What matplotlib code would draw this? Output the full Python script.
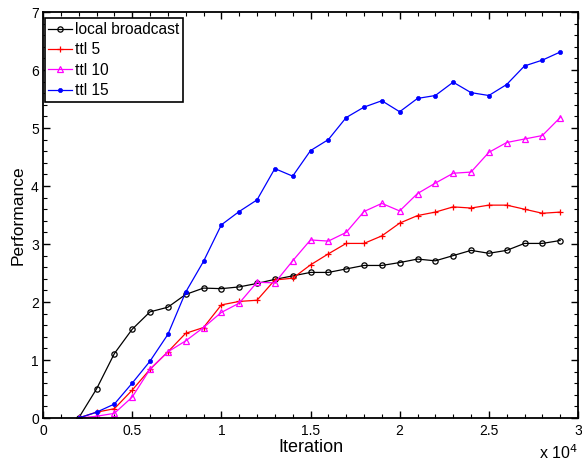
import matplotlib
matplotlib.use("Agg")
import matplotlib.pyplot as plt
from matplotlib.ticker import MultipleLocator, FuncFormatter

plt.rcParams['font.family'] = ['Liberation Sans', 'DejaVu Sans']

iterations = [2000, 3000, 4000, 5000, 6000, 7000, 8000, 9000, 10000, 11000,
              12000, 13000, 14000, 15000, 16000, 17000, 18000, 19000, 20000,
              21000, 22000, 23000, 24000, 25000, 26000, 27000, 28000, 29000]

local_broadcast = [0.0, 0.50, 1.11, 1.53, 1.83, 1.91, 2.13, 2.24, 2.23, 2.26,
                   2.32, 2.39, 2.45, 2.51, 2.51, 2.57, 2.63, 2.63, 2.68, 2.74,
                   2.71, 2.80, 2.89, 2.84, 2.89, 3.01, 3.01, 3.06]
ttl5 = [0.0, 0.10, 0.16, 0.48, 0.84, 1.14, 1.46, 1.56, 1.95, 2.01,
        2.03, 2.38, 2.41, 2.64, 2.83, 3.01, 3.01, 3.14, 3.36, 3.49,
        3.55, 3.64, 3.62, 3.67, 3.67, 3.60, 3.53, 3.55]
ttl10 = [0.0, 0.03, 0.08, 0.36, 0.84, 1.14, 1.33, 1.56, 1.82, 1.98,
         2.34, 2.33, 2.71, 3.07, 3.05, 3.20, 3.56, 3.70, 3.57, 3.87,
         4.05, 4.22, 4.24, 4.58, 4.75, 4.81, 4.87, 5.18]
ttl15 = [0.0, 0.10, 0.24, 0.60, 0.98, 1.44, 2.17, 2.70, 3.33, 3.56,
         3.76, 4.30, 4.17, 4.61, 4.80, 5.18, 5.36, 5.47, 5.28, 5.51,
         5.56, 5.79, 5.61, 5.56, 5.75, 6.07, 6.17, 6.31]

labels = ['local broadcast', 'ttl 5', 'ttl 10', 'ttl 15']

fig = plt.figure(figsize=(5.82, 4.62), dpi=100)
ax = fig.add_axes([43/582, 44/462, (578-43)/582, (418-12)/462])

ax.plot(iterations, local_broadcast, color='black', lw=0.9, marker='o',
        ms=3.8, mfc='none', mew=0.9, label=labels[0])
ax.plot(iterations, ttl5, color='red', lw=0.9, marker='+', ms=4.5,
        mew=0.9, label=labels[1])
ax.plot(iterations, ttl10, color='magenta', lw=0.9, marker='^', ms=4.5,
        mfc='none', mew=0.9, label=labels[2])
ax.plot(iterations, ttl15, color='blue', lw=0.9, marker='o', ms=3.0,
        mfc='blue', mew=0.5, label=labels[3])

ax.set_xlim(0, 30000)
ax.set_ylim(0, 7)
ax.xaxis.set_major_locator(MultipleLocator(5000))
ax.xaxis.set_minor_locator(MultipleLocator(1000))
ax.yaxis.set_major_locator(MultipleLocator(1))
ax.yaxis.set_minor_locator(MultipleLocator(0.2))
ax.xaxis.set_major_formatter(FuncFormatter(lambda v, p: '%g' % (v / 1e4)))

ax.tick_params(which='both', direction='in', top=True, right=True,
               labelsize=10)
ax.tick_params(which='major', length=5, width=1)
ax.tick_params(which='minor', length=3, width=0.8)
ax.tick_params(axis='x', pad=4)
ax.tick_params(axis='y', pad=3)
for s in ax.spines.values():
    s.set_linewidth(1.3)

ax.set_xlabel('Iteration', fontsize=13, labelpad=1)
ax.set_ylabel('Performance', fontsize=12.5, labelpad=4)

fig.text(578/582, 3/462, 'x 10$^4$', ha='right', va='baseline', fontsize=11.5)

leg = ax.legend(loc='upper left', bbox_to_anchor=(0.003, 0.985),
                fontsize=11.2, frameon=True, fancybox=False, framealpha=1,
                edgecolor='black', borderaxespad=0, handlelength=1.5,
                handletextpad=0.2, labelspacing=0.35, borderpad=0.25)
leg.get_frame().set_linewidth(1.2)

fig.savefig('out.png', dpi=100)
